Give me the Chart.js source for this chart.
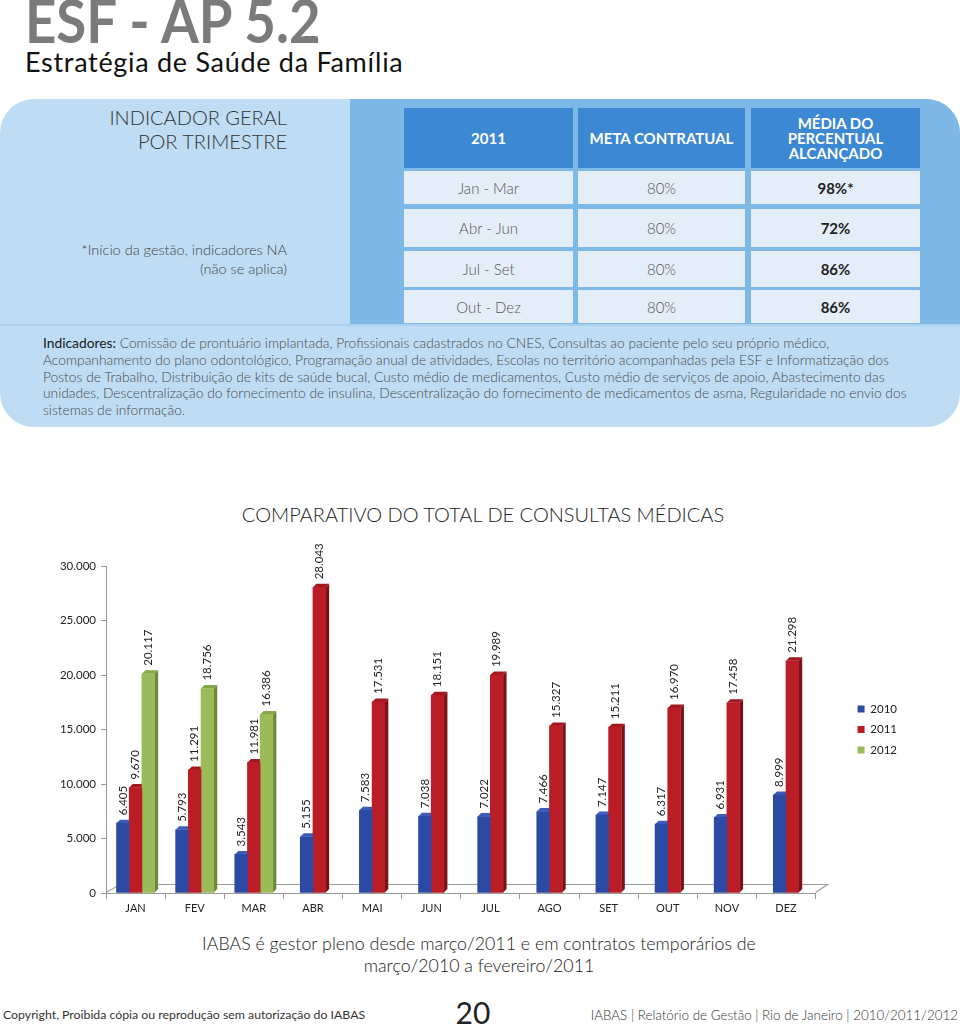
<!DOCTYPE html>
<html lang="pt-BR">
<head>
<meta charset="utf-8">
<script src="https://cdn.jsdelivr.net/npm/chart.js@4.4.1/dist/chart.umd.min.js"></script>
<style>
  html, body { margin: 0; padding: 0; background: #fff; }
  body { width: 960px; height: 1027px; position: relative; overflow: hidden; font-family: Lato, "Open Sans", sans-serif; }
  .abs { position: absolute; white-space: nowrap; }
  #title { left: 25px; top: -12px; font-size: 62px; line-height: 62px; font-weight: 700; color: #7b7b7b; transform: scaleX(0.88); transform-origin: left top; }
  #subtitle { left: 25px; top: 48px; font-size: 27px; line-height: 27px; color: #111; letter-spacing: 0.7px; }
  #panel { left: 0; top: 99px; width: 960px; height: 328px; border-radius: 34px; background: #bedcf4; overflow: hidden; }
  #panelRight { left: 350px; top: 0; width: 610px; height: 226px; background: #7eb8e7; }
  #panelLine { left: 0; top: 225px; width: 960px; height: 2px; background: #a9d0f0; }
  .hcell { background: #3c88d3; color: #fff; font-weight: 700; font-size: 15px; display: flex; align-items: center; justify-content: center; text-align: center; line-height: 15px; }
  .cell { background: #e3eef9; color: #555; font-size: 15px; font-weight: 300; display: flex; align-items: center; justify-content: center; }
  .cell.b { font-weight: 700; color: #222; }
  #lefthead { left: 0; top: 6px; width: 287px; text-align: right; font-size: 20px; line-height: 24px; color: #333; font-weight: 300; }
  #leftnote { left: 0; top: 141px; width: 287px; text-align: right; font-size: 14.5px; line-height: 19px; color: #444; font-weight: 300; }
  #para { left: 43px; top: 236px; font-size: 13.8px; line-height: 16.8px; color: #4a4a4a; font-weight: 300; }
  #para b { font-weight: 400; color: #1a1a1a; }
  #chartTitle { left: 0; width: 966px; top: 502px; text-align: center; font-size: 20px; line-height: 24px; color: #222; font-weight: 300; }
  #chartBox { left: 40px; top: 530px; width: 920px; height: 400px; }
  #note { left: 0; width: 958px; top: 932px; text-align: center; font-size: 17.8px; line-height: 22px; color: #222; font-weight: 300; }
  #copy { left: 3px; top: 1006px; font-size: 12.3px; line-height: 18px; color: #333; }
  #page { left: 440px; width: 66px; top: 994px; text-align: center; font-size: 30px; line-height: 36px; color: #222; }
  #foot { right: 2px; top: 1006px; font-size: 13.4px; line-height: 18px; color: #333; font-weight: 300; }
</style>
</head>
<body>
<div id="title" class="abs">ESF - AP 5.2</div>
<div id="subtitle" class="abs">Estratégia de Saúde da Família</div>

<div id="panel" class="abs">
  <div id="panelRight" class="abs"></div>
  <div id="panelLine" class="abs"></div>
  <div id="lefthead" class="abs">INDICADOR GERAL<br>POR TRIMESTRE</div>
  <div id="leftnote" class="abs">*Início da gestão, indicadores NA<br>(não se aplica)</div>

  <div class="abs hcell" style="left:404px;top:9px;width:169px;height:60px;">2011</div>
  <div class="abs hcell" style="left:578px;top:9px;width:167px;height:60px;">META CONTRATUAL</div>
  <div class="abs hcell" style="left:751px;top:9px;width:169px;height:60px;">MÉDIA DO<br>PERCENTUAL<br>ALCANÇADO</div>

  <div class="abs cell" style="left:404px;top:72px;width:169px;height:33px;">Jan - Mar</div>
  <div class="abs cell" style="left:578px;top:72px;width:167px;height:33px;">80%</div>
  <div class="abs cell b" style="left:751px;top:72px;width:169px;height:33px;">98%*</div>

  <div class="abs cell" style="left:404px;top:110px;width:169px;height:38px;">Abr - Jun</div>
  <div class="abs cell" style="left:578px;top:110px;width:167px;height:38px;">80%</div>
  <div class="abs cell b" style="left:751px;top:110px;width:169px;height:38px;">72%</div>

  <div class="abs cell" style="left:404px;top:152px;width:169px;height:36px;">Jul - Set</div>
  <div class="abs cell" style="left:578px;top:152px;width:167px;height:36px;">80%</div>
  <div class="abs cell b" style="left:751px;top:152px;width:169px;height:36px;">86%</div>

  <div class="abs cell" style="left:404px;top:191px;width:169px;height:33px;">Out - Dez</div>
  <div class="abs cell" style="left:578px;top:191px;width:167px;height:33px;">80%</div>
  <div class="abs cell b" style="left:751px;top:191px;width:169px;height:33px;">86%</div>

  <div id="para" class="abs"><b>Indicadores:</b> Comissão de prontuário implantada, Profissionais cadastrados no CNES, Consultas ao paciente pelo seu próprio médico,<br>Acompanhamento do plano odontológico, Programação anual de atividades, Escolas no território acompanhadas pela ESF e Informatização dos<br>Postos de Trabalho, Distribuição de kits de saúde bucal, Custo médio de medicamentos, Custo médio de serviços de apoio, Abastecimento das<br>unidades, Descentralização do fornecimento de insulina, Descentralização do fornecimento de medicamentos de asma, Regularidade no envio dos<br>sistemas de informação.</div>
</div>

<div id="chartTitle" class="abs">COMPARATIVO DO TOTAL DE CONSULTAS MÉDICAS</div>
<div id="chartBox" class="abs"><canvas id="chart"></canvas></div>

<div id="note" class="abs">IABAS é gestor pleno desde março/2011 e em contratos temporários de<br>março/2010 a fevereiro/2011</div>
<div id="copy" class="abs">Copyright, Proibida cópia ou reprodução sem autorização do IABAS</div>
<div id="page" class="abs">20</div>
<div id="foot" class="abs">IABAS | Relatório de Gestão | Rio de Janeiro | 2010/2011/2012</div>

<script>
// ---- data ----
const categories = ['JAN','FEV','MAR','ABR','MAI','JUN','JUL','AGO','SET','OUT','NOV','DEZ'];
const seriesNames = ['2010','2011','2012'];
const values2010 = [6405, 5793, 3543, 5155, 7583, 7038, 7022, 7466, 7147, 6317, 6931, 8999];
const values2011 = [9670, 11291, 11981, 28043, 17531, 18151, 19989, 15327, 15211, 16970, 17458, 21298];
const values2012 = [20117, 18756, 16386, null, null, null, null, null, null, null, null, null];
const yMin = 0, yMax = 30000, yStep = 5000;

// ---- styles ----
const frontColors = ['#2c4aa3', '#bb1d26', '#9bbb59'];
const sideColors  = ['#1c2f6e', '#7a1116', '#6a8a3a'];
const topColors   = ['#3b5cbb', '#a3171e', '#86a64a'];
const DX = 3.5, DY = 3.5;

function fmt(v) { return String(v).replace(/\B(?=(\d{3})+(?!\d))/g, '.'); }

const bars3d = {
  id: 'bars3d',
  beforeDatasetsDraw(chart) {
    const ctx = chart.ctx, a = chart.chartArea;
    // floor
    ctx.save();
    ctx.strokeStyle = '#a0a0a0';
    ctx.lineWidth = 1.2;
    ctx.beginPath();
    ctx.moveTo(a.left, a.bottom - 0.5);
    ctx.lineTo(a.left + 14, a.bottom - 8.5);
    ctx.lineTo(a.right + 12, a.bottom - 8.5);
    ctx.lineTo(a.right, a.bottom - 0.5);
    ctx.stroke();
    ctx.restore();
    chart.data.datasets.forEach((ds, di) => {
      const meta = chart.getDatasetMeta(di);
      meta.data.forEach((el, i) => {
        if (ds.data[i] == null) return;
        const {x, y, base, width} = el.getProps(['x','y','base','width'], true);
        const l = x - width / 2, r = x + width / 2;
        ctx.save();
        ctx.fillStyle = sideColors[di];
        ctx.beginPath();
        ctx.moveTo(r, y); ctx.lineTo(r + DX, y - DY); ctx.lineTo(r + DX, base - DY); ctx.lineTo(r, base);
        ctx.closePath(); ctx.fill();
        ctx.fillStyle = topColors[di];
        ctx.beginPath();
        ctx.moveTo(l, y); ctx.lineTo(l + DX, y - DY); ctx.lineTo(r + DX, y - DY); ctx.lineTo(r, y);
        ctx.closePath(); ctx.fill();
        ctx.restore();
      });
    });
  }
};

const valueLabels = {
  id: 'valueLabels',
  afterDatasetsDraw(chart) {
    const ctx = chart.ctx;
    ctx.save();
    ctx.font = '11.5px Lato, "Open Sans", sans-serif';
    ctx.fillStyle = '#222';
    ctx.textAlign = 'left';
    ctx.textBaseline = 'middle';
    chart.data.datasets.forEach((ds, di) => {
      const meta = chart.getDatasetMeta(di);
      meta.data.forEach((el, i) => {
        const v = ds.data[i];
        if (v == null) return;
        const {x, y} = el.getProps(['x','y'], true);
        ctx.save();
        ctx.translate(x, y - 8);
        ctx.rotate(-Math.PI / 2);
        ctx.fillText(fmt(v), 0, 0);
        ctx.restore();
      });
    });
    ctx.restore();
  }
};

const seriesValues = [values2010, values2011, values2012];
const chartFont = 'Lato, "Open Sans", sans-serif';

new Chart(document.getElementById('chart'), {
  type: 'bar',
  data: {
    labels: categories,
    datasets: seriesNames.map((name, k) => ({
      label: name,
      data: seriesValues[k],
      backgroundColor: frontColors[k],
      borderWidth: 0,
      barThickness: 12.7,
      skipNull: true
    }))
  },
  options: {
    responsive: true,
    maintainAspectRatio: false,
    animation: false,
    layout: { padding: { top: 36, left: 0, right: 53, bottom: 7 } },
    scales: {
      x: {
        type: 'category',
        grid: { display: true, drawOnChartArea: false, drawTicks: true, tickLength: 6, color: '#9a9a9a', offset: true },
        border: { display: true, color: '#9a9a9a' },
        ticks: { color: '#222', font: { family: chartFont, size: 11 }, padding: 3, maxRotation: 0, autoSkip: false },
        afterFit(s) { s.height = 30; }
      },
      y: {
        min: yMin, max: yMax,
        grid: { display: true, drawOnChartArea: false, drawTicks: true, tickLength: 5, color: '#9a9a9a' },
        border: { display: true, color: '#9a9a9a' },
        ticks: { stepSize: yStep, color: '#222', font: { family: chartFont, size: 11.5 }, padding: 5,
                 callback: v => fmt(v) },
        afterFit(s) { s.width = 66; }
      },
      gap: {
        type: 'linear', position: 'right', display: true,
        grid: { display: false, drawTicks: false },
        border: { display: false },
        ticks: { display: false },
        afterFit(s) { s.width = 33; }
      }
    },
    plugins: {
      legend: {
        position: 'right',
        fullSize: false,
        labels: { boxWidth: 7, boxHeight: 7, padding: 9, color: '#222', font: { family: chartFont, size: 11.5 } }
      },
      tooltip: { enabled: false },
      title: { display: false }
    }
  },
  plugins: [bars3d, valueLabels]
});
</script>
</body>
</html>
